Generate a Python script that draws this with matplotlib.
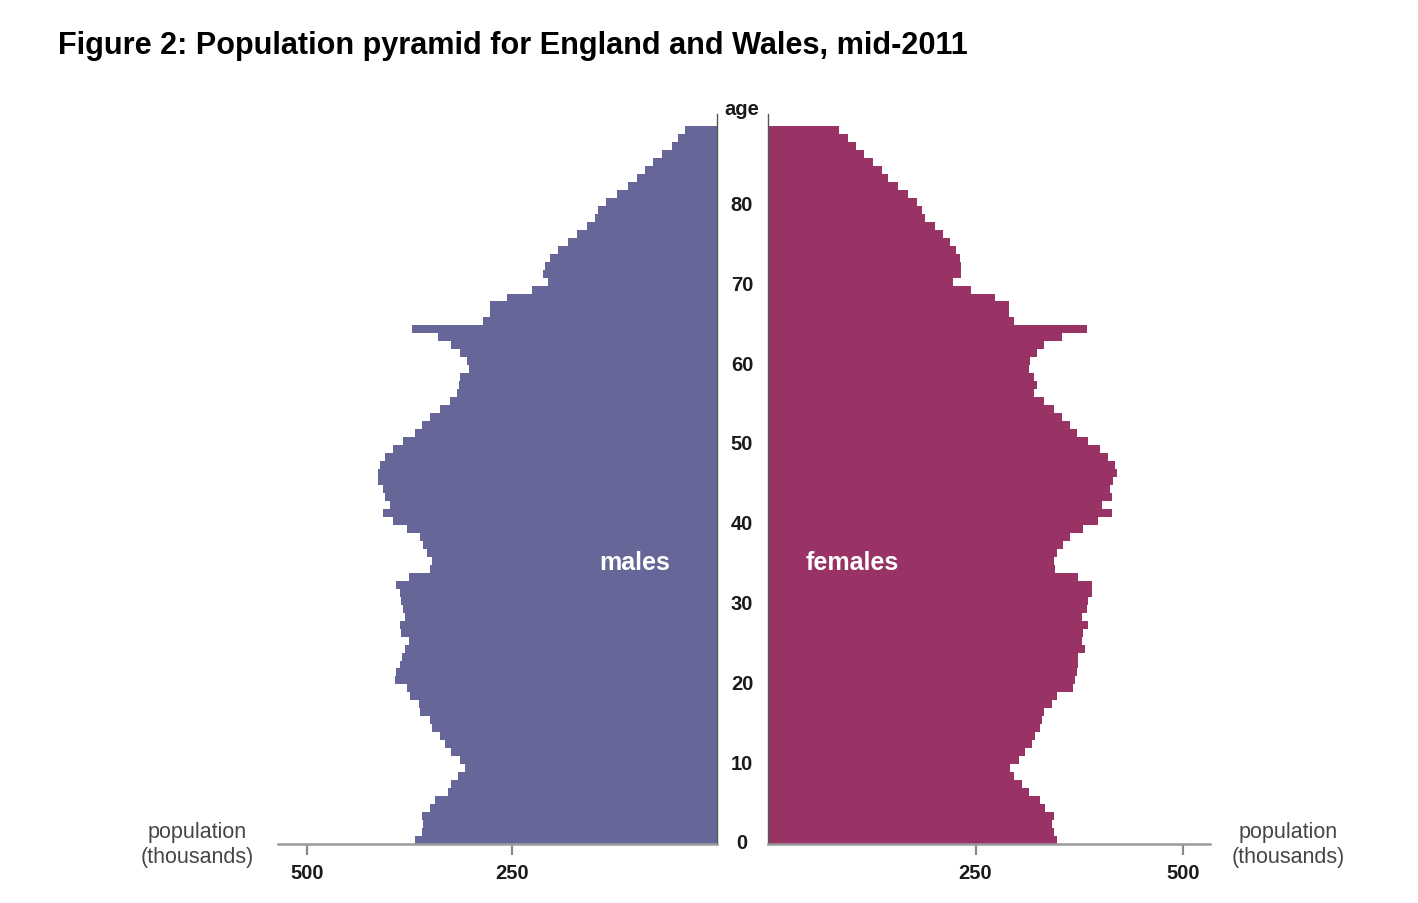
import matplotlib
matplotlib.use("Agg")
import matplotlib.pyplot as plt
from matplotlib.transforms import blended_transform_factory

plt.rcParams['font.family'] = ['Liberation Sans', 'DejaVu Sans']

# ---- data (thousands), single year of age 0..89 ----
ages = list(range(90))
males = [368, 360, 358, 360, 350, 344, 328, 324, 316, 307,
         313, 324, 332, 338, 348, 350, 362, 364, 374, 378,
         393, 391, 387, 384, 380, 376, 385, 387, 380, 383,
         385, 387, 391, 376, 350, 348, 354, 358, 362, 378,
         395, 407, 399, 405, 407, 413, 414, 411, 405, 395,
         383, 368, 360, 350, 338, 326, 317, 315, 313, 303,
         305, 313, 324, 340, 372, 285, 277, 277, 256, 226,
         206, 212, 210, 204, 194, 182, 171, 159, 149, 145,
         135, 122, 109, 98, 88, 78, 67, 55, 48, 39]
females = [348, 344, 342, 344, 334, 328, 314, 306, 296, 292,
           302, 310, 318, 322, 328, 330, 332, 342, 348, 368,
           370, 372, 374, 374, 382, 378, 380, 386, 378, 384,
           386, 390, 390, 374, 346, 344, 348, 356, 364, 380,
           398, 414, 402, 414, 412, 416, 420, 418, 410, 400,
           386, 372, 364, 354, 344, 332, 320, 324, 320, 314,
           316, 324, 332, 354, 384, 296, 290, 290, 273, 245,
           223, 233, 233, 231, 227, 219, 211, 201, 189, 185,
           179, 169, 157, 145, 137, 127, 116, 106, 96, 86]
age_ticks = [0, 10, 20, 30, 40, 50, 60, 70, 80]
pop_ticks = [250, 500]

MALE_COLOR = '#666699'
FEMALE_COLOR = '#993366'

W, H = 1418, 904
fig = plt.figure(figsize=(W / 100, H / 100), dpi=100)


def fx(px):
    return px / W


def fy(py):
    return 1 - py / H


bottom, top = fy(845), fy(115)
axL = fig.add_axes([fx(278), bottom, fx(717) - fx(278), top - bottom])
axR = fig.add_axes([fx(768), bottom, fx(1210) - fx(768), top - bottom])

axL.barh(ages, males, height=1.0, align='edge', color=MALE_COLOR, linewidth=0)
axR.barh(ages, females, height=1.0, align='edge', color=FEMALE_COLOR, linewidth=0)

axL.set_xlim(535.4, 0)
axR.set_xlim(0, 532.5)
for ax in (axL, axR):
    ax.set_ylim(0, 91.5)
    ax.set_yticks([])
    ax.set_xticks(pop_ticks)
    ax.set_xticklabels([str(t) for t in pop_ticks], fontweight='bold')
    ax.tick_params(axis='x', direction='out', length=8, width=1.6,
                   color='#8a8a8a', labelsize=14.5, pad=5.5, labelcolor='#1a1a1a')
    ax.spines['top'].set_visible(False)
    ax.spines['bottom'].set_color('#9a9a9a')
    ax.spines['bottom'].set_linewidth(1.8)
    ax.set_facecolor('none')

axL.spines['left'].set_visible(False)
axL.spines['right'].set_color('#555555')
axL.spines['right'].set_linewidth(1.0)
axR.spines['right'].set_visible(False)
axR.spines['left'].set_color('#555555')
axR.spines['left'].set_linewidth(1.0)

# age labels between the two halves
trans = blended_transform_factory(axL.transAxes, axL.transData)
mid_x = (742 - 278) / (717 - 278)
for a in age_ticks:
    axL.text(mid_x, a + 0.15, str(a), transform=trans, ha='center', va='center',
             fontsize=14.5, fontweight='bold', color='#1a1a1a', clip_on=False)
axL.text(mid_x, 92.2, 'age', transform=trans, ha='center', va='center',
         fontsize=14.5, fontweight='bold', color='#1a1a1a', clip_on=False)

# inner labels
fig.text(fx(635), fy(563), 'males', ha='center', va='center', color='white',
         fontsize=18, fontweight='bold')
fig.text(fx(852), fy(563), 'females', ha='center', va='center', color='white',
         fontsize=18, fontweight='bold')

# axis titles
fig.text(fx(197), fy(845), 'population\n(thousands)', ha='center', va='center',
         fontsize=15.5, color='#454545', linespacing=1.2)
fig.text(fx(1288), fy(845), 'population\n(thousands)', ha='center', va='center',
         fontsize=15.5, color='#454545', linespacing=1.2)

fig.text(fx(58), fy(46), 'Figure 2: Population pyramid for England and Wales, mid-2011',
         ha='left', va='center', fontsize=22.1, fontweight='bold', color='black')

fig.savefig('out.png', dpi=100)
